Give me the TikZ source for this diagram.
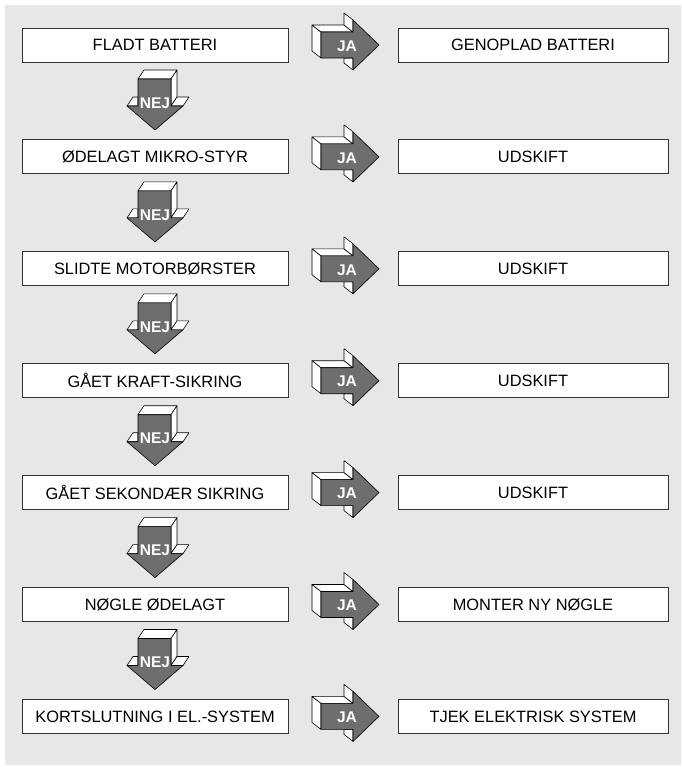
\documentclass[tikz,border=0pt]{standalone}
\usepackage{fontspec}
\setmainfont{Liberation Sans}
\definecolor{bg}{HTML}{E6E7E8}
\definecolor{arrowgray}{HTML}{6D6E70}
\definecolor{edge}{HTML}{333333}
\begin{document}
\begin{tikzpicture}[x=1pt,y=-1pt,
  lbox/.style={draw=edge, line width=0.9pt, fill=white, minimum width=266pt, minimum height=34pt, inner sep=0pt, font=\fontsize{16.4}{18}\selectfont},
  rbox/.style={lbox, minimum width=270pt},
  face/.style={draw=black, line width=0.6pt, fill=white, line join=round},
  front/.style={draw=black, line width=0.6pt, fill=arrowgray, line join=round},
  lbl/.style={text=white, font=\bfseries\fontsize{15.5}{16}\selectfont, inner sep=0pt}]
\useasboundingbox (0,0) rectangle (681,767);
\fill[bg] (5,5) rectangle (681,765);
\foreach \i/\lt/\rt in {0/FLADT BATTERI/GENOPLAD BATTERI,
                        1/ØDELAGT MIKRO-STYR/UDSKIFT,
                        2/SLIDTE MOTORBØRSTER/UDSKIFT,
                        3/GÅET KRAFT-SIKRING/UDSKIFT,
                        4/GÅET SEKONDÆR SIKRING/UDSKIFT,
                        5/NØGLE ØDELAGT/MONTER NY NØGLE,
                        6/KORTSLUTNING I EL.-SYSTEM/TJEK ELEKTRISK SYSTEM}{
  \pgfmathsetmacro{\c}{45+111.9*\i}
  \node[lbox] (L\i) at (155,\c) {\lt};
  \node[rbox] (R\i) at (533,\c) {\rt};
  % JA arrow (extruded, depth up-left)
  \draw[face] (312,\c-20) -- (321,\c-13) -- (321,\c+13) -- (312,\c+6) -- cycle;
  \draw[face] (312,\c-20) -- (344,\c-20) -- (353,\c-13) -- (321,\c-13) -- cycle;
  \draw[face] (344,\c-32) -- (353,\c-25) -- (353,\c-13) -- (344,\c-20) -- cycle;
  \draw[face] (344,\c+13) -- (353,\c+13) -- (353,\c+25) -- (344,\c+18) -- cycle;
  \draw[front] (321,\c-13) -- (353,\c-13) -- (353,\c-25) -- (379,\c) -- (353,\c+25) -- (353,\c+13) -- (321,\c+13) -- cycle;
  \node[lbl] (JA\i) at (347,\c+1) {JA};
}
\foreach \i in {0,...,5}{
  \pgfmathsetmacro{\c}{45+111.9*\i}
  % NEJ arrow (extruded, depth up-right)
  \draw[face] (138,\c+34) -- (171,\c+34) -- (177,\c+25) -- (144,\c+25) -- cycle;
  \draw[face] (171,\c+34) -- (177,\c+25) -- (177,\c+52) -- (171,\c+61) -- cycle;
  \draw[face] (171,\c+61) -- (183,\c+61) -- (189,\c+52) -- (177,\c+52) -- cycle;
  \draw[face] (127,\c+61) -- (138,\c+61) -- (138,\c+52) -- (133,\c+52) -- cycle;
  \draw[front] (138,\c+34) -- (171,\c+34) -- (171,\c+61) -- (183,\c+61) -- (155,\c+85) -- (127,\c+61) -- (138,\c+61) -- cycle;
  \node[lbl] (NEJ\i) at (155,\c+58) {NEJ};
}
\end{tikzpicture}
\end{document}
